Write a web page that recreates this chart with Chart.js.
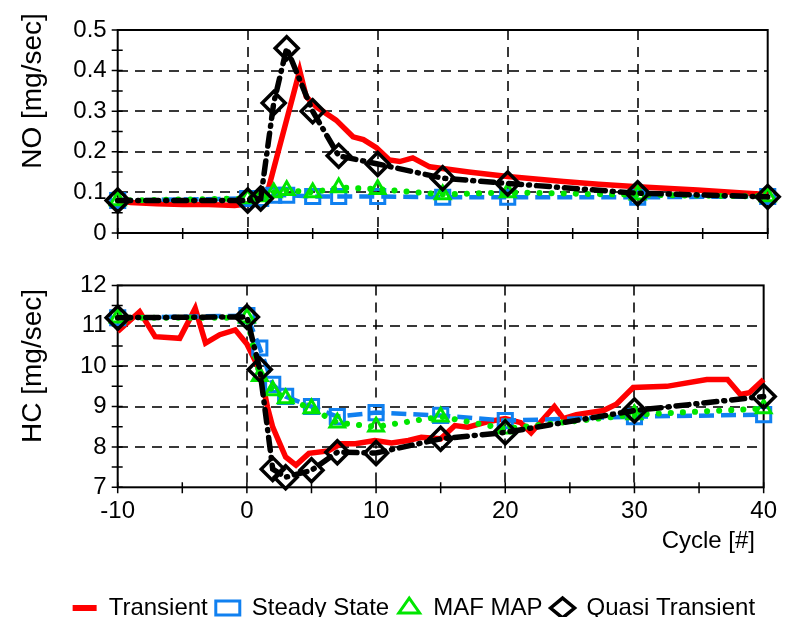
<!DOCTYPE html>
<html>
<head>
<meta charset="utf-8">
<script src="https://cdn.jsdelivr.net/npm/chart.js@4.4.1/dist/chart.umd.min.js"></script>
<style>
  html, body { margin: 0; padding: 0; background: #fff; overflow: hidden; }
  #wrap { position: relative; width: 787px; height: 617px; overflow: hidden; background: #fff; }
  #noChart { position: absolute; left: 0; top: 0; }
  #hcChart { position: absolute; left: 0; top: 260px; }
</style>
</head>
<body>
<div id="wrap">
  <canvas id="noChart" width="787" height="260"></canvas>
  <canvas id="hcChart" width="787" height="370"></canvas>
</div>
<script>
// cycles where the models were evaluated (markers)
var modelCycles = [-10, 0, 1, 2, 3, 5, 7, 10, 15, 20, 30, 40];

// NO [mg/sec]
var noSteady = [0.08, 0.085, 0.085, 0.093, 0.093, 0.09, 0.09, 0.09, 0.088, 0.088, 0.088, 0.09];
var noMafMap = [0.08, 0.085, 0.09, 0.10, 0.105, 0.10, 0.112, 0.108, 0.095, 0.10, 0.094, 0.09];
var noQuasi  = [0.08, 0.08, 0.085, 0.32, 0.455, 0.30, 0.19, 0.17, 0.135, 0.122, 0.098, 0.089];
var noTransCycles = [-10, -9, -7, -5, -3, -1, 0, 1, 1.5, 4, 4.5, 5.3, 6.8, 8.1, 8.9, 9.9, 10.9, 11.7, 12.7, 14, 17, 20, 24.3, 27, 30, 34.6, 38.4, 40];
var noTransient  = [0.08, 0.075, 0.072, 0.07, 0.07, 0.068, 0.072, 0.085, 0.098, 0.40, 0.336, 0.31, 0.278, 0.237, 0.23, 0.21, 0.18, 0.176, 0.185, 0.163, 0.15, 0.139, 0.127, 0.12, 0.114, 0.106, 0.098, 0.095];

// HC [mg/sec]
var hcSteady = [11.2, 11.25, 10.45, 9.55, 9.25, 9.0, 8.75, 8.85, 8.78, 8.65, 8.75, 8.8];
var hcMafMap = [11.2, 11.2, 9.75, 9.4, 9.2, 8.95, 8.6, 8.5, 8.75, 8.45, 8.8, 8.95];
var hcQuasi  = [11.2, 11.22, 9.92, 7.45, 7.25, 7.42, 7.87, 7.85, 8.2, 8.36, 8.9, 9.25];
var hcTransCycles = [-10, -8.3, -7.1, -5.2, -4, -3.2, -2.1, -0.9, 0, 1, 1.6, 2, 3, 3.8, 4.8, 6.3, 7.3, 8.4, 9.9, 11.2, 12.5, 13.5, 15, 16.1, 17.1, 18.6, 20, 21.2, 22, 23.8, 24.5, 25.5, 27.6, 28.6, 29.9, 32.5, 35.6, 37.2, 38.2, 38.9, 40];
var hcTransient  = [10.86, 11.35, 10.73, 10.69, 11.43, 10.57, 10.78, 10.9, 10.55, 9.9, 8.98, 8.49, 7.75, 7.55, 7.84, 7.9, 8.08, 8.08, 8.16, 8.1, 8.16, 8.24, 8.2, 8.53, 8.49, 8.62, 8.7, 8.6, 8.35, 9.0, 8.7, 8.8, 8.9, 9.06, 9.47, 9.5, 9.67, 9.67, 9.3, 9.34, 9.67];

var xTicks = [-10, 0, 10, 20, 30, 40];

var FONT = '"Liberation Sans", Arial, sans-serif';
var RED = '#ff0000', BLUE = '#1080f0', GREEN = '#00e600', BLACK = '#000000';
var PLOT_LEFT = 117.7;

function pairs(xs, ys) {
  return xs.map(function (x, i) { return { x: x, y: ys[i] }; });
}

function makeSets(trX, trY, ss, mm, qt) {
  return [
    { label: 'Transient', data: pairs(trX, trY), borderColor: RED, borderWidth: 5.5,
      pointRadius: 0, pointStyle: 'line', pointBorderColor: RED, pointBorderWidth: 6,
      order: 3, clip: false },
    { label: 'Steady State', data: pairs(modelCycles, ss), borderColor: BLUE, borderWidth: 4.5,
      borderDash: [15, 7], pointStyle: 'rect', pointRadius: 10, pointBorderWidth: 3,
      pointBorderColor: BLUE, pointBackgroundColor: 'rgba(0,0,0,0)', order: 2, clip: false },
    { label: 'MAF MAP', data: pairs(modelCycles, mm), borderColor: GREEN, borderWidth: 6,
      borderDash: [0.1, 12], borderCapStyle: 'round', pointStyle: 'triangle', pointRadius: 8.5,
      pointBorderWidth: 3, pointBorderColor: GREEN, pointBackgroundColor: 'rgba(0,0,0,0)',
      order: 1, clip: false },
    { label: 'Quasi Transient', data: pairs(modelCycles, qt), borderColor: BLACK, borderWidth: 5.5,
      borderDash: [13, 7, 1, 7], borderCapStyle: 'round', pointStyle: 'rectRot', pointRadius: 11.5,
      pointBorderWidth: 3.5, pointBorderColor: BLACK, pointBackgroundColor: 'rgba(0,0,0,0)',
      order: 0, clip: false }
  ];
}

// ticks crossing the axes + box frame
var axisFrame = {
  id: 'axisFrame',
  beforeDatasetsDraw: function (chart) {
    var ctx = chart.ctx, a = chart.chartArea, sx = chart.scales.x, sy = chart.scales.y;
    ctx.save();
    ctx.strokeStyle = '#000';
    ctx.lineWidth = 1.5;
    ctx.beginPath();
    sx.ticks.forEach(function (t) {
      var px = sx.getPixelForValue(t.value);
      ctx.moveTo(px, a.bottom - 5); ctx.lineTo(px, a.bottom + 6);
    });
    sy.ticks.forEach(function (t) {
      var py = sy.getPixelForValue(t.value);
      ctx.moveTo(a.left - 6, py); ctx.lineTo(a.left + 5, py);
    });
    ctx.stroke();
    ctx.lineWidth = 2;
    ctx.strokeRect(a.left, a.top, a.right - a.left, a.bottom - a.top);
    ctx.restore();
  }
};

// axis titles placed like the original figure
var axisText = {
  id: 'axisText',
  afterDraw: function (chart, args, o) {
    var ctx = chart.ctx;
    ctx.save();
    ctx.fillStyle = '#000';
    if (o.yText) {
      ctx.save();
      ctx.font = '28px ' + FONT;
      ctx.translate(o.yX, o.yY);
      ctx.rotate(-Math.PI / 2);
      ctx.textAlign = 'center';
      ctx.textBaseline = 'middle';
      ctx.fillText(o.yText, 0, 0);
      ctx.restore();
    }
    if (o.xText) {
      ctx.font = '24px ' + FONT;
      ctx.textAlign = 'right';
      ctx.textBaseline = 'alphabetic';
      ctx.fillText(o.xText, o.xRight, o.xBase);
    }
    ctx.restore();
  }
};

function majorGrid(isMajor) {
  return function (c) {
    if (!c.tick) return 'rgba(0,0,0,0)';
    return isMajor(c.tick.value) ? 'rgba(0,0,0,0.78)' : 'rgba(0,0,0,0)';
  };
}

function makeOptions(cfg) {
  var font = { family: FONT, size: 24 };
  return {
    responsive: false,
    animation: false,
    layout: { padding: { left: cfg.padLeft, right: 19.3, top: cfg.top, bottom: 0 } },
    plugins: {
      tooltip: { enabled: false },
      legend: {
        display: cfg.legend,
        position: 'bottom',
        labels: {
          usePointStyle: true,
          boxHeight: 14,
          pointStyleWidth: 24,
          padding: 8,
          color: '#000',
          font: font,
          sort: function (a, b) { return a.datasetIndex - b.datasetIndex; },
          generateLabels: function (chart) {
            return Chart.defaults.plugins.legend.labels.generateLabels(chart).map(function (l) {
              l.fillStyle = 'rgba(0,0,0,0)';
              l.lineDash = [];
              return l;
            });
          }
        }
      },
      axisText: cfg.text
    },
    scales: {
      x: {
        type: 'linear', min: -10, max: 40,
        ticks: {
          stepSize: 5, autoSkip: false, maxRotation: 0, display: cfg.xLabels,
          padding: 10, color: '#000', font: font,
          callback: function (v) { return xTicks.indexOf(v) >= 0 ? String(v) : ''; }
        },
        grid: {
          drawTicks: false, lineWidth: 2,
          color: majorGrid(function (v) { return xTicks.indexOf(v) > 0 && xTicks.indexOf(v) < xTicks.length - 1; })
        },
        border: { display: false, dash: [10, 7] },
        afterFit: function (scale) {
          var lg = scale.chart.legend;
          var lh = cfg.legend && lg ? lg.height : 0;
          scale.height = scale.chart.height - cfg.bottom - lh;
        }
      },
      y: {
        type: 'linear', min: cfg.yMin, max: cfg.yMax,
        ticks: {
          stepSize: cfg.yStep, autoSkip: false, padding: 11, color: '#000', font: font,
          callback: cfg.yLabel
        },
        grid: {
          drawTicks: false, lineWidth: 2,
          color: majorGrid(function (v) { return cfg.yMajor(v) && v > cfg.yMin && v < cfg.yMax; })
        },
        border: { display: false, dash: [10, 7] },
        afterFit: function (scale) { scale.width = PLOT_LEFT - cfg.padLeft; }
      }
    }
  };
}

new Chart(document.getElementById('noChart'), {
  type: 'line',
  data: { datasets: makeSets(noTransCycles, noTransient, noSteady, noMafMap, noQuasi) },
  options: makeOptions({
    top: 30, bottom: 233, legend: false, xLabels: false, padLeft: 0,
    yMin: 0, yMax: 0.5, yStep: 0.05,
    yMajor: function (v) { return Math.round(v * 100) % 10 === 0; },
    yLabel: function (v) { return Math.round(v * 100) % 10 === 0 ? String(Math.round(v * 10) / 10) : ''; },
    text: { yText: 'NO [mg/sec]', yX: 33, yY: 91 }
  }),
  plugins: [axisFrame, axisText]
});

new Chart(document.getElementById('hcChart'), {
  type: 'line',
  data: { datasets: makeSets(hcTransCycles, hcTransient, hcSteady, hcMafMap, hcQuasi) },
  options: makeOptions({
    top: 23.3, bottom: 227.3, legend: true, xLabels: true, padLeft: 60,
    yMin: 7, yMax: 12, yStep: 0.5,
    yMajor: function (v) { return Number.isInteger(v); },
    yLabel: function (v) { return Number.isInteger(v) ? String(v) : ''; },
    text: { yText: 'HC [mg/sec]', yX: 33, yY: 106, xText: 'Cycle [#]', xRight: 755, xBase: 288 }
  }),
  plugins: [axisFrame, axisText]
});
</script>
</body>
</html>
